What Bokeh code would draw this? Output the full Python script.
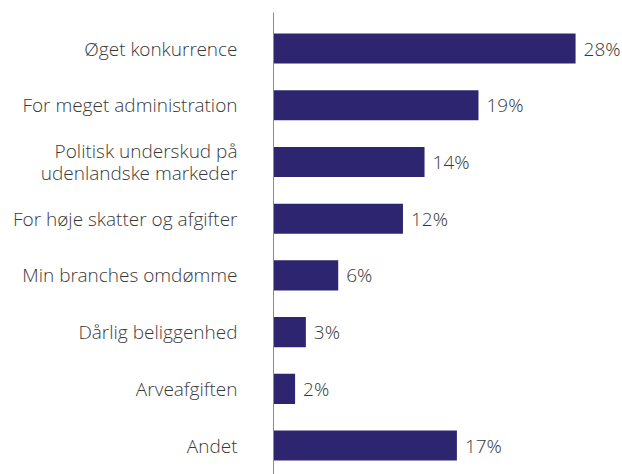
from bokeh.plotting import figure
from bokeh.models import Range1d, FixedTicker, ColumnDataSource
from bokeh.core.properties import value
from bokeh.embed import file_html
from bokeh.resources import INLINE

categories = ["Øget konkurrence", "For meget administration",
              "Politisk underskud på\nudenlandske markeder",
              "For høje skatter og afgifter", "Min branches omdømme",
              "Dårlig beliggenhed", "Arveafgiften", "Andet"]
values = [28, 19, 14, 12, 6, 3, 2, 17]
labels = [f"{v}%" for v in values]

n = len(categories)
ypos = [n - 1 - i for i in range(n)]

src = ColumnDataSource(dict(y=ypos, v=values, lab=labels))

FONT = "Open Sans Light, Open Sans"

p = figure(width=622, height=474, output_backend="svg", toolbar_location=None,
           x_range=Range1d(0, 32.35), y_range=Range1d(-0.51, n - 1 + 0.635),
           x_axis_location=None, min_border_left=273, min_border_right=0,
           min_border_top=12, min_border_bottom=0)
p.outline_line_color = None
p.xgrid.visible = False
p.ygrid.visible = False

p.hbar(y="y", right="v", left=0, height=0.53, source=src,
       fill_color="#2d2570", line_color=None)
p.text(x="v", y="y", text="lab", source=src, x_offset=8,
       text_baseline="middle", text_align="left",
       text_font=value(FONT), text_font_size="19px", text_color="#3a3a3a")

ax = p.yaxis[0]
ax.ticker = FixedTicker(ticks=ypos)
ax.major_label_overrides = {y: c for y, c in zip(ypos, categories)}
ax.major_tick_line_color = None
ax.minor_tick_line_color = None
ax.axis_line_color = "#8c8c8c"
ax.axis_line_width = 1
ax.major_label_standoff = 30
ax.major_label_text_font = FONT
ax.major_label_text_font_size = "19px"
ax.major_label_text_color = "#3a3a3a"
ax.major_label_text_align = "right"
ax.major_label_text_line_height = 0.85

open("out.html", "w").write(file_html(p, INLINE))
